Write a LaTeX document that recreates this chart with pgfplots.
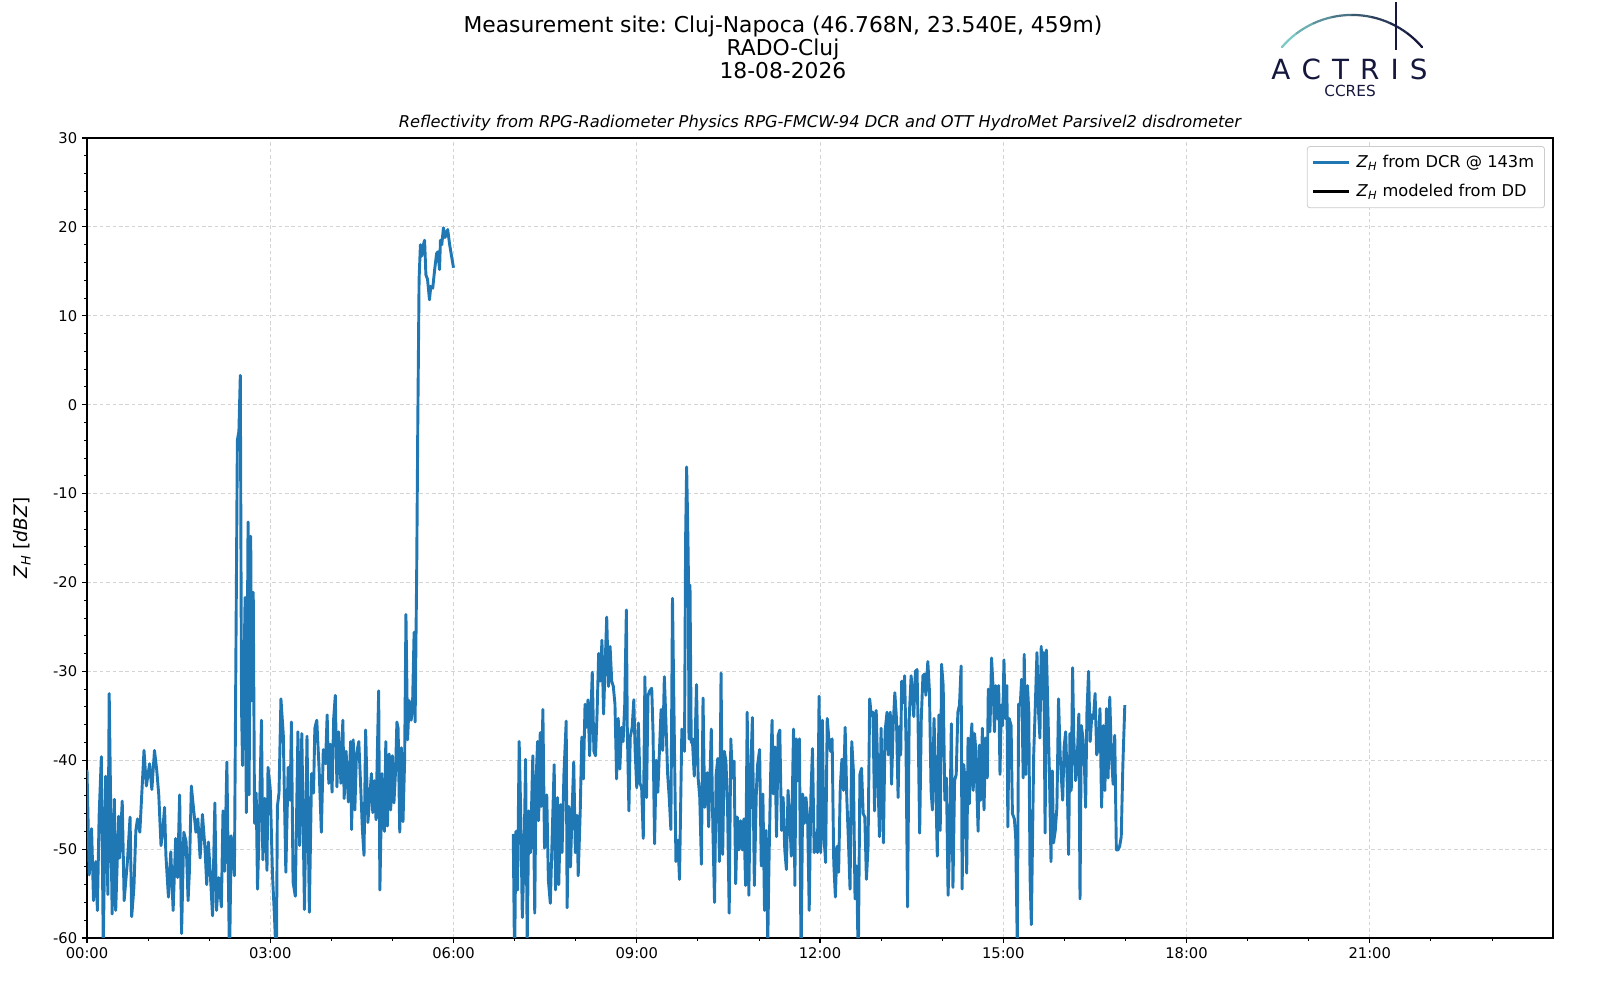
\documentclass[border=0pt]{standalone}
\usepackage{pgfplots}
\pgfplotsset{compat=1.18}
\usepackage{fontspec}
\setmainfont{DejaVu Sans}
\frenchspacing
\definecolor{mplblue}{HTML}{1F77B4}
\definecolor{navy}{HTML}{15173D}
\definecolor{tealL}{HTML}{7CCAC6}
\newcommand{\ZH}{\textit{Z}\textsubscript{\textit{H}}}
\begin{document}
\begin{tikzpicture}
\path[use as bounding box] (-62.64pt,-44.64pt) rectangle (1089.36pt,675.36pt);
\begin{axis}[
  at={(0,0)}, anchor=south west,
  width=1055.52pt, height=576pt, scale only axis,
  xmin=0, xmax=1440, ymin=-60, ymax=30,
  xtick={0,180,...,1260},
  xticklabels={00:00,03:00,06:00,09:00,12:00,15:00,18:00,21:00},
  minor xtick={60,120,...,1380},
  ytick={-60,-50,...,30},
  yticklabels={-60,-50,-40,-30,-20,-10,0,10,20,30},
  minor y tick num=4,
  tick align=outside, tick pos=left,
  major tick length=3.5pt, minor tick length=2pt,
  major tick style={black, line width=0.8pt},
  minor tick style={black, line width=0.6pt},
  grid=major,
  major grid style={dash pattern=on 2.6pt off 2pt, color=black!17, line width=0.6pt},
  axis line style={line width=0.8pt},
  tick label style={font=\fontsize{10.6}{12.5}\selectfont},
  ylabel={\ZH{} [\textit{dBZ}]},
  ylabel style={font=\fontsize{13.3}{15}\selectfont, at={(axis description cs:-0.0443,0.5)}, anchor=center},
  legend style={at={(axis description cs:1,1)}, anchor=north east, xshift=-5.8pt, yshift=-5.8pt,
    draw=black!20, rounded corners=2pt, line width=0.6pt, font=\fontsize{11.7}{13.5}\selectfont,
    inner xsep=3pt, inner ysep=4.6pt, row sep=6.2pt,
    nodes={inner xsep=4.5pt}},
  legend cell align=left,
  legend image code/.code={\draw[#1] (0pt,0pt) -- (26pt,0pt);},
]
\addplot[mplblue, line width=2.1pt, line join=round] coordinates {
(0,-41.1)(2.2,-52.9)(4.5,-47.7)(6.4,-55.8)(8.6,-51.4)(10.2,-56.9)(11.9,-46.3)(14.1,-39.6)(16,-61)(18.3,-41.8)
(20.5,-55.1)(21.8,-32.5)(24.7,-57.3)(26.9,-44.4)(28.2,-56.9)(31.1,-46.3)(32,-51)(34.6,-44.6)(36.5,-55.8)(39.7,-51.4)
(42.3,-46.4)(43.9,-57.6)(46.1,-54.3)(48,-47.9)(49.6,-46.6)(51.9,-48.1)(56,-38.9)(58.3,-42.9)(61.5,-40.4)(63.7,-43.3)
(66.3,-38.9)(68.5,-41.1)(70.5,-43.9)(72.7,-49.6)(74.3,-48.1)(76.2,-45.3)(77.5,-50.7)(80,-55.4)(82.3,-50.3)(84.6,-56.9)
(87.1,-48.8)(89,-53.2)(91,-43.9)(92.9,-59.5)(95.1,-48.1)(97.4,-49.2)(99.3,-55.8)(100.6,-52.5)(102.5,-42.9)(104.7,-45.5)
(107,-48.1)(108.9,-46.6)(111.1,-51)(113.4,-46.1)(115.9,-49.9)(117.6,-54)(119.2,-49.2)(120.8,-52.1)(123.3,-57.5)(125.6,-44.8)
(127.2,-56.9)(129.4,-53.2)(132,-56.5)(133.6,-45.7)(135.2,-52.5)(137.4,-40.2)(140,-63)(141.6,-48.5)(144.8,-53)(147.7,-4)
(149.2,-3)(150.6,3.3)(151.8,-34.1)(152.8,-40.6)(155.3,-21.7)(156.5,-45.9)(158.2,-13.2)(159.2,-43.9)(160.8,-14.8)(161.8,-33.3)
(163.3,-21.1)(164.6,-47.1)(166.2,-43.7)(167.5,-54.5)(169.4,-46.3)(171.4,-35.5)(172.7,-51.2)(174.6,-44.3)(176.8,-52.4)(177.8,-40.8)
(180,-43.2)(182.2,-52.9)(184.2,-57.7)(186,-63)(187,-45.2)(188.6,-43.7)(190.5,-33.1)(192.8,-37.1)(195.3,-52.6)(197.6,-40.8)
(199.5,-44.5)(200.8,-35.7)(202.4,-53.7)(204.6,-55.3)(207.2,-36.8)(208.8,-49.6)(211,-37)(213.6,-56.8)(216.1,-37.3)(218.4,-57.1)
(220.6,-41.5)(222.5,-43.7)(223.8,-36.4)(225.7,-35.5)(228,-41)(230.2,-48.1)(232.1,-38.8)(234.3,-40.4)(235.9,-34.9)(237.5,-42.6)
(239.1,-38.2)(240.7,-43.6)(242.3,-35.3)(243.9,-32.7)(245.5,-43)(247.1,-36.8)(249.4,-42.6)(251.3,-35.5)(252.6,-44.3)(254.5,-39)
(256.7,-44.7)(259,-37.9)(259.9,-47.8)(261.5,-37.7)(263.1,-45.6)(264.7,-39.3)(267,-37.9)(268.6,-42.3)(270.5,-47.8)(272.1,-50.7)
(273.7,-36.6)(275.9,-47)(277.5,-44.5)(279.4,-41.5)(280.7,-45.9)(282.3,-42.3)(283.9,-46.7)(284.9,-40.8)(286.5,-32.2)(287.7,-54.6)
(289.7,-41.5)(290.9,-47)(292.2,-48)(293.5,-37.9)(295.1,-47.4)(296.7,-39.3)(298.3,-45.6)(299.9,-39.5)(301.5,-44.8)(303.1,-41.2)
(304.4,-35.7)(305.6,-36.4)(307.2,-48.1)(308.8,-38.6)(310.4,-46.9)(312,-40)(313.3,-23.6)(314.9,-37.7)(316.5,-33.3)(318.4,-35.5)
(319.7,-34.2)(321.3,-25.6)(322.3,-35.7)(323.9,-18.1)(324.9,-2.5)(326.2,14.1)(327.5,18)(328.7,16.7)(330,17.8)(331.6,18.5)
(332.9,14.6)(334.5,14.1)(336.4,11.8)(337.7,13.3)(339.6,13.1)(341.5,15.2)(343.4,17)(344.7,17.2)(346.3,15.2)(347.2,18.5)
(348.5,18)(350.1,19.9)(351.7,18.8)(353,19.3)(354.3,19.7)(356.2,18)(358.1,16.7)(360,15.4)
};
\addlegendentry{\ZH{} from DCR @ 143m}
\addplot[mplblue, line width=2.1pt, line join=round, forget plot] coordinates {
(418.7,-48.3)(420,-63)(421.3,-48)(422.9,-54.6)(424.5,-37.9)(426,-45.7)(427.6,-57.7)(429.2,-51.4)(430.8,-39.9)(432.4,-60.5)
(434,-45.7)(435.6,-50.4)(437.9,-39.5)(439.8,-57.2)(441,-42.6)(442.6,-37.9)(443.6,-46.8)(445.2,-36.9)(446.1,-45.2)(447.8,-34.3)
(449.4,-49.9)(451.6,-43.9)(453.2,-53.5)(455.1,-56.1)(457,-48.3)(458.9,-40.5)(460.2,-54.6)(462.1,-44.2)(463.4,-54)(465.3,-45)
(466.6,-50.4)(468.5,-41.5)(470.7,-35.6)(471.6,-56.6)(473.3,-45.2)(474.9,-52)(476.5,-45.7)(478.1,-40.2)(479.7,-50.4)(481.3,-46.2)
(482.5,-53)(484.5,-45.7)(486,-37.4)(487.6,-42.1)(489.2,-33.7)(490.8,-36.3)(492.1,-33.2)(493.7,-39.5)(495.3,-33.7)(496.3,-30.1)
(497.9,-39)(499.5,-39.5)(501,-34.8)(502.6,-28)(504.2,-31.1)(505.8,-26.5)(507.4,-34.8)(509,-29.1)(510.5,-23.9)(512.2,-31.7)
(513.8,-27.2)(515.4,-31.1)(517,-31.7)(518.6,-33.7)(520.2,-42.1)(521.8,-35.3)(523.4,-41)(525,-36.3)(526.6,-37.9)(528.2,-33.7)
(529.8,-23.1)(530.7,-36.3)(532.3,-45.7)(533.6,-37.4)(535.5,-36.3)(537.1,-33.2)(538.4,-38.9)(540,-43.1)(541.6,-35.8)(543.2,-42.6)
(544.8,-43.1)(546.4,-48.8)(548,-30.6)(549.6,-44.2)(551.1,-32.7)(552.7,-32.2)(554.7,-31.9)(556,-36.9)(557.5,-49.4)(559.1,-40)
(560.7,-43.6)(562.3,-38.9)(563.9,-34.3)(565.5,-38.9)(567.1,-30.6)(568.7,-35.8)(570.3,-41.5)(571.9,-44.2)(573.5,-47.8)(575.1,-21.8)
(576.9,-37.4)(578.5,-51.4)(580.4,-49)(582,-53.4)(584.3,-36.5)(586.9,-39)(588,-15)(589,-7)(589.8,-12)(590.6,-17.5)
(591.3,-37.6)(592.3,-20.3)(593.5,-38)(594.6,-37.6)(596.5,-41.8)(598.7,-31.5)(600.3,-42)(601.9,-44.2)(603.5,-51.7)(605.1,-33)
(606.7,-45.3)(609.3,-41.4)(610.6,-47.5)(613.2,-36.5)(614.8,-47.9)(616.4,-56)(618,-41.6)(619.6,-39.8)(621.2,-51.4)(622.8,-30.2)
(624.4,-50.6)(626,-39)(627.6,-40.1)(629.2,-45.3)(630.8,-57.2)(632.4,-37.6)(634,-42)(635.6,-40.1)(637.2,-53.9)(638.8,-46.4)
(640.4,-50.1)(642,-46.8)(643.7,-50.1)(645.3,-46.6)(646.9,-54.1)(648.5,-34.6)(650.1,-55.2)(651.7,-42)(653.6,-35.2)(655.5,-54.1)
(657.5,-43.4)(658.7,-40.5)(660.7,-38.8)(662.3,-51.9)(663.9,-43.8)(665.5,-56.9)(667.1,-47.9)(668.7,-60.5)(670,-50.8)(671.6,-41.2)
(672.9,-35.5)(674.1,-43.8)(675.7,-38.5)(677.3,-48.6)(678.9,-37.2)(680.5,-36.6)(682.2,-47.9)(683.8,-44.2)(685.4,-50.1)(687,-52.3)
(688.6,-43.4)(690.2,-46.4)(691.8,-50.8)(694,-36.5)(695.3,-54.1)(696.6,-37.6)(698.2,-42.3)(699.8,-37.6)(701.4,-63)(703,-43.8)
(704.6,-47.1)(706.2,-44.2)(707.8,-46.4)(709.4,-56.9)(711,-44.2)(712.6,-38.7)(714.3,-50.4)(715.9,-48.2)(717.5,-50.4)(719.1,-32.8)
(720.7,-50.4)(722.3,-35.5)(723.9,-48.6)(725.5,-51.5)(727.1,-35.3)(728.7,-37.6)(730.3,-39)(731.9,-37.6)(733.5,-51.5)(735.1,-55.4)
(736.7,-49.7)(738.3,-52.6)(739.9,-43.1)(741.5,-39.9)(743.1,-43.4)(744.7,-36.3)(746.3,-44.2)(747.9,-49)(749.5,-54.5)(751.2,-37.9)
(752.8,-41.2)(754.4,-55.6)(756,-51.9)(757.6,-63)(759.2,-41.6)(760.8,-40.9)(762.4,-46)(764,-46.4)(765.6,-53.4)(767.2,-49.7)
(768.8,-33.1)(770.4,-35)(772,-34.6)(773.6,-45.7)(775.2,-34.4)(778.4,-48.6)(780,-36.4)(782.3,-49.3)(783.9,-36.8)(785.8,-34.6)
(787.1,-39.4)(789,-34.6)(790.3,-42.7)(791.9,-36.1)(793.5,-32.4)(795.1,-35.3)(796.7,-44.2)(798,-36.2)(799.3,-39.4)(800.2,-31.1)
(801.8,-33.5)(803.1,-30.5)(804.4,-37.5)(806,-56.5)(807.6,-35.3)(809.5,-30.5)(810.8,-32.4)(812.1,-35.1)(813.7,-30)(815.3,-29.8)
(816.3,-35.7)(817.9,-48.2)(819.5,-35.3)(821.1,-30.5)(822.7,-30.3)(824,-32.7)(825.9,-28.9)(827.5,-32.2)(829.1,-43.4)(830.4,-45.6)
(832,-35.3)(833.6,-42)(835.2,-50.8)(836.8,-34.9)(838.1,-47.9)(839.4,-29.2)(841,-31.6)(842.6,-44.5)(844.2,-42)(845.8,-55.2)
(847.4,-49)(849,-35.9)(850.6,-54.3)(852.2,-42.3)(853.8,-41.6)(855.4,-34.6)(857,-33.8)(858.6,-29.4)(859.6,-54.5)(861.2,-40.5)
(862.8,-42.7)(864.1,-52.7)(865.4,-37.5)(866.7,-44.9)(868.3,-37.5)(869.2,-35.9)(870.5,-43.4)(871.8,-37)(873.1,-39)(874.1,-43.4)
(875.3,-48)(876.6,-38.3)(877.9,-44.5)(879.5,-36.4)(881.1,-45.6)(882.7,-37.5)(884.3,-42)(885.3,-32)(886.9,-36.8)(888.5,-28.5)
(890.1,-32)(891.4,-36.8)(892.6,-31.6)(894.2,-35.3)(895.5,-31.6)(896.8,-41.6)(898.1,-33.8)(899.4,-36.1)(900.7,-28.7)(902,-35.3)
(903.6,-31.6)(904.5,-47.5)(905.8,-35.3)(907.7,-36.1)(909,-46)(910.9,-46.6)(912.2,-48.6)(913.8,-61)(915.1,-33.7)(916.7,-33.8)
(918,-30.9)(919.6,-42)(920.6,-28.1)(922.2,-41.6)(923.8,-31.6)(925.1,-34.6)(926.3,-53)(927.6,-58.5)(929.9,-39.4)(931.5,-33.8)
(933.1,-27.9)(934.7,-34.6)(936,-37.5)(937.3,-27.2)(938.5,-33.1)(939.8,-27.9)(941.1,-48.2)(942.4,-27.6)(943.7,-33.8)(945.3,-41.2)
(946.9,-51.4)(948.2,-41.2)(949.4,-49.3)(951.1,-47.9)(952.7,-45.3)(954.3,-33.1)(955.9,-39.4)(957.1,-42)(958.4,-44.5)(959.7,-38.6)
(961.3,-36.8)(962.9,-42.7)(964.2,-50.6)(965.5,-37)(966.8,-43.4)(968.1,-29.6)(969.3,-37.5)(971,-42.3)(972.5,-40.5)(974.2,-34.8)
(975.4,-55.6)(976.7,-36.1)(978.3,-37.5)(979.6,-40.1)(980.9,-45.3)(982.2,-34.6)(983.8,-30)(985.4,-37.9)(987,-34.9)(988.6,-35.3)
(990.2,-32.5)(991.8,-39.4)(993.4,-38.6)(995,-34.2)(996.6,-45.3)(998.2,-36.1)(999.8,-43.4)(1001.4,-34.2)(1003,-42)(1004.6,-32.9)
(1006.2,-39.4)(1007.9,-42.7)(1009.5,-37.2)(1011.1,-50.1)(1012.7,-50.1)(1014.3,-49.7)(1015.9,-48.6)(1017.5,-40.5)(1019.4,-33.8)
};
\addlegendimage{black, line width=2.1pt}
\addlegendentry{\ZH{} modeled from DD}
\end{axis}
% titles
\node[anchor=base, font=\fontsize{15.7}{17}\selectfont] at (501.1pt,651.6pt) {Measurement site: Cluj-Napoca (46.768N, 23.540E, 459m)};
\node[anchor=base, font=\fontsize{15.7}{17}\selectfont] at (501.1pt,635.4pt) {RADO-Cluj};
\node[anchor=base, font=\fontsize{15.7}{17}\selectfont] at (501.1pt,618.8pt) {18-08-2026};
\node[anchor=base, font=\itshape\fontsize{11.7}{14}\selectfont] at (527.76pt,583.2pt) {Reflectivity from RPG-Radiometer Physics RPG-FMCW-94 DCR and OTT HydroMet Parsivel2 disdrometer};
% logo
\foreach \a/\p in {139.3/100,127/85,114.6/68,102.3/52,90/36,77.6/22,65.3/10,53/0}{
  \draw[line width=1.6pt, line cap=round, color=tealL!\p!navy] ([shift={(\a:66.5pt)}]910.8pt,598.1pt) arc[start angle=\a, end angle=\a-12.33, radius=66.5pt];
}
\draw[navy, line width=1.3pt] (942.5pt,639.4pt) -- (942.5pt,673.9pt);
\node[anchor=base, text=navy, font=\fontsize{20}{22}\selectfont] at (909pt,617.8pt) {A\hspace{8pt}C\hspace{8pt}T\hspace{8pt}R\hspace{8pt}I\hspace{8pt}S};
\node[anchor=base, text=navy, font=\fontsize{11}{13}\selectfont] at (909.4pt,605.8pt) {CCRES};
\end{tikzpicture}
\end{document}
